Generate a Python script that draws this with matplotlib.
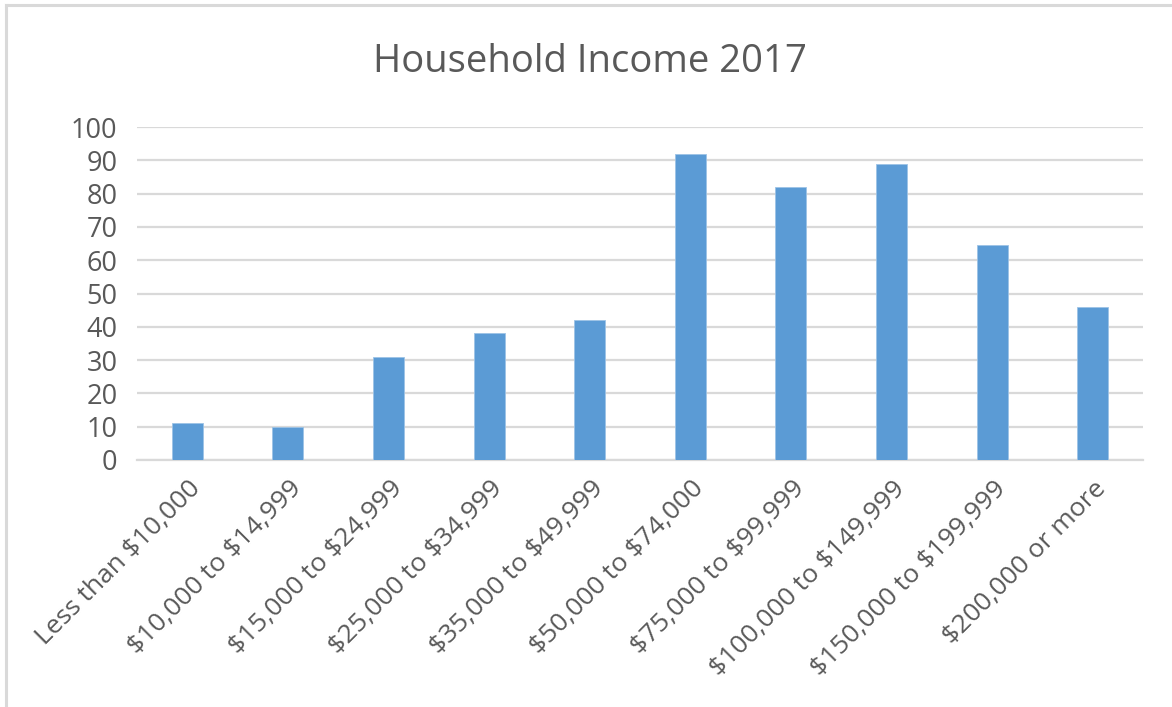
import matplotlib
matplotlib.use("Agg")
import matplotlib.pyplot as plt
from matplotlib.lines import Line2D
import matplotlib.transforms as mtransforms

categories = ["Less than $10,000", "$10,000 to $14,999", "$15,000 to $24,999",
              "$25,000 to $34,999", "$35,000 to $49,999", "$50,000 to $74,000",
              "$75,000 to $99,999", "$100,000 to $149,999", "$150,000 to $199,999",
              "$200,000 or more"]
values = [11, 10, 31, 38, 42, 92, 82, 89, 64.6, 46]
yticks = [0, 10, 20, 30, 40, 50, 60, 70, 80, 90, 100]
title = "Household Income 2017"

W, H = 1172, 707
plt.rcParams['font.family'] = ['Open Sans', 'DejaVu Sans']
fig = plt.figure(figsize=(W / 100, H / 100), dpi=100)
fig.patch.set_facecolor('white')

left, right, top, bottom = 137, 1143, 127, 460
ax = fig.add_axes([left / W, 1 - bottom / H, (right - left) / W, (bottom - top) / H])

text_color = '#595959'
grid_color = '#d9d9d9'
bar_color = '#5b9bd5'

x = list(range(len(categories)))
ax.bar(x, values, width=0.31, color=bar_color, edgecolor='#9dc3e6', linewidth=0.6, zorder=3)
ax.set_xlim(-0.5, len(categories) - 0.5)
ax.set_ylim(0, 100)
ax.set_yticks(yticks)
ax.set_yticklabels([str(v) for v in yticks])
ax.yaxis.grid(True, color=grid_color, linewidth=1.6, zorder=0)
ax.set_axisbelow(True)
for s in ['left', 'right', 'top']:
    ax.spines[s].set_visible(False)
ax.spines['bottom'].set_color(grid_color)
ax.spines['bottom'].set_linewidth(1.6)
ax.tick_params(axis='both', length=0, colors=text_color)
ax.tick_params(axis='y', labelsize=19.5, pad=14)
ax.set_xticks(x)
ax.set_xticklabels(categories, rotation=45, ha='right', va='center',
                   rotation_mode='anchor', fontsize=19, color=text_color)
ax.tick_params(axis='x', pad=18)
offset = mtransforms.ScaledTranslation(10 / 100, 0, fig.dpi_scale_trans)
for lbl in ax.get_xticklabels():
    lbl.set_parse_math(False)
    lbl.set_transform(lbl.get_transform() + offset)

fig.text(590 / W, 1 - 62 / H, title, ha='center', va='center', fontsize=27.5, color=text_color)

# chart-area border (top and left edges visible)
fig.add_artist(Line2D([6 / W, 6 / W], [0, 1 - 5 / H], transform=fig.transFigure, color=grid_color, linewidth=2.2))
fig.add_artist(Line2D([6 / W, 1], [1 - 5 / H, 1 - 5 / H], transform=fig.transFigure, color=grid_color, linewidth=2.2))

fig.savefig("out.png", dpi=100)
